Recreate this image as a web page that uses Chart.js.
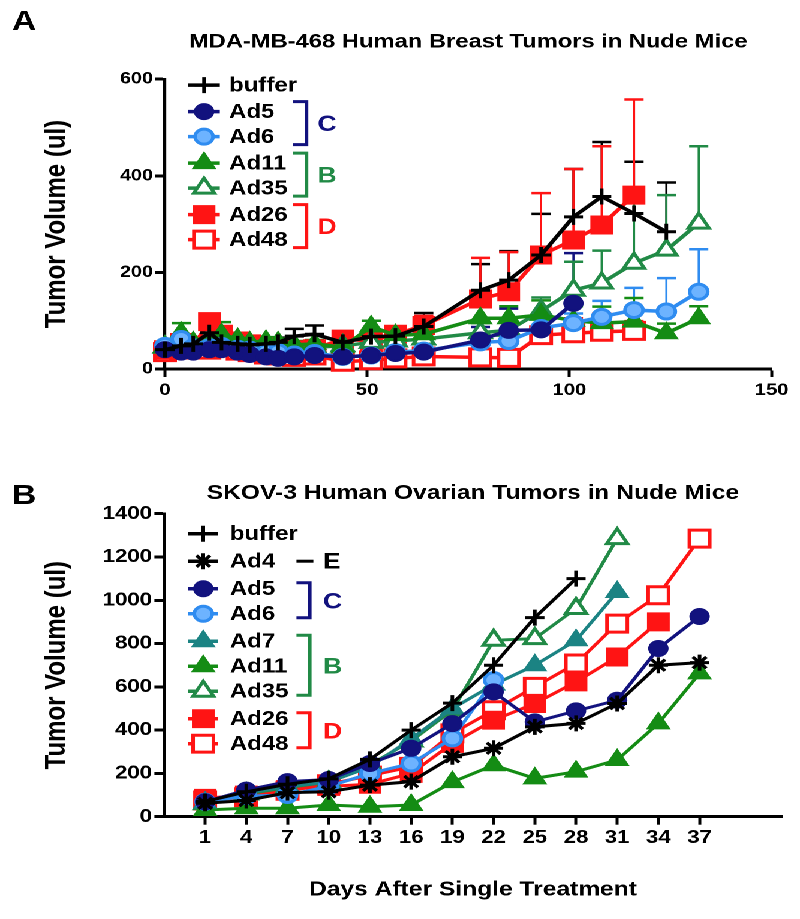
<!DOCTYPE html>
<html>
<head>
<meta charset="utf-8">
<script src="https://cdn.jsdelivr.net/npm/chart.js@4.4.1/dist/chart.umd.min.js"></script>
<style>
  html, body { margin: 0; padding: 0; background: #fff; }
  /* the original figure is stretched sideways, so draw narrow and widen */
  #wrap { position: absolute; left: 0; top: 0; width: 667px; height: 919px; transform: scaleX(1.1994); transform-origin: 0 0; }
  canvas { position: absolute; left: 0; }
</style>
</head>
<body>
<div id="wrap">
  <canvas id="chartA" width="667" height="460" style="top:0;width:667px;height:460px"></canvas>
  <canvas id="chartB" width="667" height="459" style="top:460px;width:667px;height:459px"></canvas>
</div>
<script>
// ---- panel A: MDA-MB-468 breast tumors ----
const daysA = [0, 4, 7, 11, 14, 18, 21, 25, 28, 32, 37, 44, 51, 57, 64, 78, 85, 93, 101, 108, 116, 124, 132];
const bufferA = [40, 48, 52, 75, 55, 52, 50, 52, 55, 68, 72, 55, 67, 68, 88, 163, 184, 236, 315, 357, 322, 284];
const bufferAErr = [8, 10, 10, 15, 10, 8, 8, 8, 10, 15, 18, 14, 10, 12, 28, 54, 60, 85, 99, 113, 107, 102];
const ad5A = [40, 35, 35, 40, 40, 35, 30, 25, 22, 25, 28, 25, 28, 32, 35, 60, 80, 81, 136];
const ad5AErr = [6, 6, 6, 6, 6, 5, 5, 5, 5, 5, 6, 6, 6, 6, 8, 27, 45, 25, 104];
const ad6A = [48, 62, 45, 45, 48, 42, 40, 35, 35, 30, 33, 25, 28, 35, 38, 55, 58, 85, 95, 108, 122, 119, 160];
const ad6AErr = [8, 10, 6, 6, 6, 6, 5, 5, 5, 5, 5, 5, 5, 5, 6, 10, 12, 18, 20, 33, 46, 69, 88];
const ad11A = [45, 75, 55, 55, 72, 62, 55, 58, 55, 50, 52, 45, 88, 70, 72, 105, 105, 112, 100, 95, 98, 74, 105];
const ad11AErr = [8, 20, 8, 10, 25, 10, 8, 8, 8, 8, 8, 8, 12, 10, 12, 25, 25, 30, 30, 34, 49, 20, 25];
const ad35A = [45, 60, 50, 55, 55, 52, 48, 48, 45, 42, 45, 48, 55, 58, 62, 75, 80, 120, 163, 178, 219, 246, 302];
const ad35AErr = [8, 10, 8, 8, 8, 8, 6, 6, 6, 6, 6, 8, 10, 10, 10, 20, 20, 28, 59, 67, 130, 114, 159];
const ad26A = [40, 55, 48, 98, 72, 58, 52, 45, 42, 40, 42, 62, 58, 72, 90, 145, 160, 236, 267, 298, 360];
const ad26AErr = [8, 12, 10, 15, 12, 10, 8, 6, 6, 6, 6, 10, 10, 15, 20, 85, 82, 128, 147, 163, 198];
const ad48A = [35, 40, 42, 40, 45, 38, 35, 30, 28, 25, 28, 15, 18, 22, 26, 24, 23, 70, 74, 77, 79];
const ad48AErr = [6, 6, 6, 6, 6, 6, 5, 5, 5, 5, 5, 5, 5, 5, 5, 8, 8, 36, 31, 38, 20];

// ---- panel B: SKOV-3 ovarian tumors ----
const daysB = [1, 4, 7, 10, 13, 16, 19, 22, 25, 28, 31, 34, 37];
const bufferB = [70, 115, 150, 175, 265, 400, 525, 700, 920, 1100];
const ad4B = [62, 75, 111, 115, 146, 162, 277, 316, 415, 431, 523, 700, 712];
const ad5B = [69, 123, 162, 172, 246, 316, 430, 577, 438, 489, 538, 777, 925];
const ad6B = [69, 95, 100, 140, 200, 246, 362, 631];
const ad7B = [65, 110, 140, 160, 230, 360, 500, 610, 700, 815, 1038];
const ad11B = [31, 39, 39, 54, 46, 54, 160, 238, 177, 208, 262, 431, 662];
const ad35B = [60, 105, 135, 160, 240, 350, 492, 815, 823, 962, 1285];
const ad26B = [85, 100, 125, 140, 150, 200, 339, 446, 523, 623, 738, 900];
const ad48B = [75, 90, 120, 150, 190, 230, 385, 492, 600, 708, 892, 1023, 1285];

const FONT = "'Liberation Sans', Arial, Helvetica, sans-serif";
const BLACK = '#000000', NAVY = '#12127e', SKY = '#2f8cf0', TEAL = '#1b8383',
      GREEN = '#148c14', GREEN2 = '#218a46', RED = '#ff1414';

const look = {
  buffer: {c: BLACK, ps: 'cross', r: 8, bg: BLACK, bw: 3},
  Ad4: {c: BLACK, ps: 'star', r: 8, bg: BLACK, bw: 3},
  Ad5: {c: NAVY, ps: 'circle', r: 7.5, bg: NAVY, bw: 2},
  Ad6: {c: SKY, ps: 'circle', r: 7.5, bg: '#6db3ff', bw: 3},
  Ad7: {c: TEAL, ps: 'triangle', r: 10, bg: TEAL, bw: 2},
  Ad11: {c: GREEN, ps: 'triangle', r: 10, bg: GREEN, bw: 2},
  Ad35: {c: GREEN2, ps: 'triangle', r: 10, bg: '#ffffff', bw: 3},
  Ad26: {c: RED, ps: 'rect', r: 12, bg: RED, bw: 2},
  Ad48: {c: RED, ps: 'rect', r: 12, bg: '#ffffff', bw: 3}
};

function series(label, days, vals, err, lw) {
  const s = look[label];
  return {
    label: label,
    data: vals.map((v, i) => ({x: days[i], y: v})),
    err: err,
    borderColor: s.c, borderWidth: lw, backgroundColor: s.bg,
    pointStyle: s.ps, pointRadius: s.r, pointHoverRadius: s.r,
    pointBackgroundColor: s.bg, pointBorderColor: s.c, pointBorderWidth: s.bw,
    tension: 0, fill: false, clip: false
  };
}

// upper SEM bars, drawn under the lines
const errorBars = {
  id: 'errorBars',
  beforeDatasetsDraw(chart) {
    const ctx = chart.ctx, x = chart.scales.x, y = chart.scales.y;
    ctx.save();
    chart.data.datasets.forEach(ds => {
      if (!ds.err) return;
      ctx.strokeStyle = ds.borderColor;
      ds.data.forEach((p, j) => {
        const e = ds.err[j];
        if (!e) return;
        const px = x.getPixelForValue(p.x);
        const py = y.getPixelForValue(p.y);
        const pt = y.getPixelForValue(p.y + e);
        ctx.lineWidth = 1.8;
        ctx.beginPath(); ctx.moveTo(px, py); ctx.lineTo(px, pt); ctx.stroke();
        ctx.lineWidth = 2.5;
        ctx.beginPath(); ctx.moveTo(px - 8, pt); ctx.lineTo(px + 8, pt); ctx.stroke();
      });
    });
    ctx.restore();
  }
};

// legend with the line + symbol and the group brackets
function groupLegend(cfg) {
  return {
    id: 'groupLegend',
    afterDatasetsDraw(chart) {
      const ctx = chart.ctx;
      let y = chart.chartArea.top + cfg.top;
      ctx.save();
      cfg.groups.forEach(g => {
        const rows = [];
        g.members.forEach(name => {
          const ds = chart.data.datasets.find(d => d.label === name);
          ctx.strokeStyle = ds.borderColor;
          ctx.lineWidth = 3.5;
          ctx.beginPath(); ctx.moveTo(cfg.x0, y); ctx.lineTo(cfg.x1, y); ctx.stroke();
          ctx.fillStyle = ds.pointBackgroundColor;
          ctx.strokeStyle = ds.pointBorderColor;
          ctx.lineWidth = ds.pointBorderWidth;
          Chart.helpers.drawPoint(ctx, {pointStyle: ds.pointStyle, radius: ds.pointRadius, rotation: 0, borderWidth: ds.pointBorderWidth}, (cfg.x0 + cfg.x1) / 2, y);
          ctx.fillStyle = '#000';
          ctx.font = 'bold 20px ' + FONT;
          ctx.textAlign = 'left';
          ctx.textBaseline = 'middle';
          ctx.fillText(name, cfg.textX, y + 1);
          rows.push(y);
          y += cfg.rowH;
        });
        if (g.letter) {
          const y0 = rows[0], y1 = rows[rows.length - 1];
          ctx.strokeStyle = g.color;
          ctx.lineWidth = 3;
          ctx.beginPath();
          if (rows.length === 1) {
            ctx.moveTo(cfg.bx0, y0); ctx.lineTo(cfg.bx1 + 3, y0);
          } else {
            ctx.moveTo(cfg.bx0, y0 - cfg.bUp); ctx.lineTo(cfg.bx1, y0 - cfg.bUp);
            ctx.lineTo(cfg.bx1, y1 + cfg.bDown); ctx.lineTo(cfg.bx0, y1 + cfg.bDown);
          }
          ctx.stroke();
          ctx.fillStyle = g.color;
          ctx.font = 'bold 22px ' + FONT;
          ctx.textBaseline = 'middle';
          ctx.fillText(g.letter, cfg.letterX, (y0 + y1) / 2 + 1);
        }
        y += cfg.gap;
      });
      ctx.restore();
    }
  };
}

function panelTag(text, baseY) {
  return {
    id: 'panelTag',
    afterDraw(chart) {
      const ctx = chart.ctx;
      ctx.save();
      ctx.fillStyle = '#000';
      ctx.font = 'bold 28px ' + FONT;
      ctx.textBaseline = 'alphabetic';
      ctx.fillText(text, 10, baseY);
      ctx.restore();
    }
  };
}

function axisFont(size) { return {family: FONT, size: size, weight: 'bold'}; }

function makeOptions(c) {
  return {
    responsive: false, animation: false, devicePixelRatio: 2,
    layout: {padding: {left: 0, right: c.padRight, top: 0, bottom: 0}},
    plugins: {
      legend: {display: false},
      tooltip: {enabled: false},
      title: {
        display: true, text: c.title, fullSize: false, color: '#000',
        font: axisFont(c.titleSize), padding: {top: c.titleTop, bottom: c.titleBottom}
      }
    },
    scales: {
      x: {
        type: 'linear', min: c.xMin, max: c.xMax,
        afterFit: s => { s.height = c.xHeight; },
        afterBuildTicks: c.xTicks ? (s => { s.ticks = c.xTicks.map(v => ({value: v})); }) : undefined,
        ticks: {stepSize: c.xStep, color: '#000', font: axisFont(c.xTickSize), padding: c.xTickPad, maxRotation: 0, autoSkip: false,
                callback: v => String(v)},
        grid: {display: true, drawOnChartArea: false, drawTicks: true, tickLength: 8, tickWidth: 2.5, tickColor: '#000'},
        border: {display: true, color: '#000', width: 3},
        title: c.xTitle
          ? {display: true, text: c.xTitle, color: '#000', font: axisFont(20.5), padding: {top: 0, bottom: 16.7}}
          : {display: false}
      },
      y: {
        min: 0, max: c.yMax,
        afterFit: s => { s.width = c.yWidth; },
        ticks: {stepSize: 200, color: '#000', font: axisFont(c.yTickSize), padding: 2, callback: v => String(v)},
        grid: {display: true, drawOnChartArea: false, drawTicks: true, tickLength: 8, tickWidth: 3, tickColor: '#000'},
        border: {display: true, color: '#000', width: 2.6},
        title: {display: true, text: 'Tumor Volume (ul)', color: '#000', font: axisFont(24), padding: {top: 33.1, bottom: 0}}
      }
    }
  };
}

new Chart(document.getElementById('chartA'), {
  type: 'line',
  data: {
    datasets: [
      series('buffer', daysA, bufferA, bufferAErr, 3.5),
      series('Ad5', daysA, ad5A, ad5AErr, 3.5),
      series('Ad6', daysA, ad6A, ad6AErr, 3.5),
      series('Ad11', daysA, ad11A, ad11AErr, 3.5),
      series('Ad35', daysA, ad35A, ad35AErr, 3.5),
      series('Ad26', daysA, ad26A, ad26AErr, 3.5),
      series('Ad48', daysA, ad48A, ad48AErr, 3.5)
    ]
  },
  options: makeOptions({
    title: 'MDA-MB-468 Human Breast Tumors in Nude Mice', titleSize: 19.8,
    titleTop: 30.1, titleBottom: 25.3, padRight: 23.7,
    xMin: 0, xMax: 150, xStep: 50, xHeight: 91, xTicks: null, xTitle: null, xTickSize: 17, xTickPad: 3,
    yMax: 600, yWidth: 137.5, yTickSize: 16.5
  }),
  plugins: [errorBars, groupLegend({
    top: 6, rowH: 25, gap: 1.5, x0: 157, x1: 183.3, textX: 191, bx0: 244.4, bx1: 255.6, letterX: 264.7, bUp: 10, bDown: 8,
    groups: [
      {members: ['buffer']},
      {members: ['Ad5', 'Ad6'], letter: 'C', color: NAVY},
      {members: ['Ad11', 'Ad35'], letter: 'B', color: GREEN2},
      {members: ['Ad26', 'Ad48'], letter: 'D', color: RED}
    ]
  }), panelTag('A', 30)]
});

new Chart(document.getElementById('chartB'), {
  type: 'line',
  data: {
    datasets: [
      series('buffer', daysB, bufferB, null, 3),
      series('Ad4', daysB, ad4B, null, 3),
      series('Ad5', daysB, ad5B, null, 3),
      series('Ad6', daysB, ad6B, null, 3),
      series('Ad7', daysB, ad7B, null, 3),
      series('Ad11', daysB, ad11B, null, 3),
      series('Ad35', daysB, ad35B, null, 3),
      series('Ad26', daysB, ad26B, null, 3),
      series('Ad48', daysB, ad48B, null, 3)
    ]
  },
  options: makeOptions({
    title: 'SKOV-3 Human Ovarian Tumors in Nude Mice', titleSize: 20.5,
    titleTop: 20.9, titleBottom: 8.2, padRight: 7,
    xMin: -2, xMax: 43, xStep: 3, xHeight: 102.3, xTicks: daysB, xTitle: 'Days After Single Treatment',
    xTickSize: 18.5, xTickPad: 2,
    yMax: 1400, yWidth: 136.7, yTickSize: 18.5
  }),
  plugins: [groupLegend({
    top: 20, rowH: 25, gap: 2.5, x0: 157, x1: 182, textX: 191.7, bx0: 247.2, bx1: 258.3, letterX: 269.4, bUp: 6, bDown: 4,
    groups: [
      {members: ['buffer']},
      {members: ['Ad4'], letter: 'E', color: BLACK},
      {members: ['Ad5', 'Ad6'], letter: 'C', color: NAVY},
      {members: ['Ad7', 'Ad11', 'Ad35'], letter: 'B', color: GREEN2},
      {members: ['Ad26', 'Ad48'], letter: 'D', color: RED}
    ]
  }), panelTag('B', 44)]
});
</script>
</body>
</html>
